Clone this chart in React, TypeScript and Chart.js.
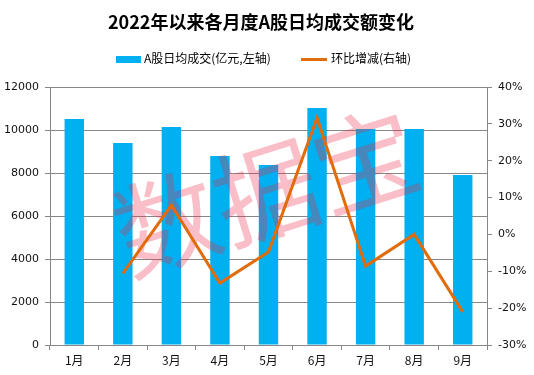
import React, { useEffect, useRef } from "react";
import { Chart, registerables } from "chart.js";

Chart.register(...registerables);

const TITLE = "2022年以来各月度A股日均成交额变化";
const categories = ["1月", "2月", "3月", "4月", "5月", "6月", "7月", "8月", "9月"];
const turnover = [10510, 9400, 10140, 8790, 8370, 11020, 10050, 10050, 7910];
const momChange = [null, -10.6, 7.9, -13.2, -4.8, 31.6, -8.6, 0.0, -21.0];
const barLabel = "A股日均成交(亿元,左轴)";
const lineLabel = "环比增减(右轴)";
const watermark = "数据宝";

const BAR_COLOR = "#00B0F0";
const LINE_COLOR = "#E26B0A";
const GRID = "#878787";
const CJK = '"Noto Sans CJK SC", "Noto Sans", sans-serif';
const TICK_FONT = '"DejaVu Sans", Verdana, sans-serif';

const decorPlugin = {
  id: "decor",
  afterDatasetDraw(chart: any, args: any) {
    if (args.index !== 0) return;
    const ctx = chart.ctx;
    ctx.save();
    ctx.translate(266, 192);
    ctx.rotate((-17.5 * Math.PI) / 180);
    ctx.font = `normal 104px ${CJK}`;
    ctx.fillStyle = "rgba(235, 40, 70, 0.3)";
    ctx.textAlign = "center";
    ctx.textBaseline = "middle";
    ctx.fillText(watermark, 0, 0);
    ctx.restore();
  },
  afterDraw(chart: any) {
    const ctx = chart.ctx;
    ctx.save();
    ctx.fillStyle = "#000";
    ctx.textAlign = "center";
    ctx.textBaseline = "middle";
    ctx.font = `bold 18px ${CJK}`;
    ctx.fillText(TITLE, 261, 22);
    // legend
    ctx.fillStyle = BAR_COLOR;
    ctx.fillRect(116, 56, 25, 7);
    ctx.strokeStyle = LINE_COLOR;
    ctx.lineWidth = 3;
    ctx.beginPath();
    ctx.moveTo(301, 59.5);
    ctx.lineTo(327, 59.5);
    ctx.stroke();
    ctx.fillStyle = "#000";
    ctx.textAlign = "left";
    ctx.font = `12px ${CJK}`;
    ctx.fillText(barLabel, 144, 58);
    ctx.fillText(lineLabel, 331, 58);
    ctx.restore();
  },
};

export default function App() {
  const ref = useRef<HTMLCanvasElement | null>(null);
  useEffect(() => {
    if (!ref.current) return;
    const chart = new Chart(ref.current, {
      type: "bar",
      data: {
        labels: categories,
        datasets: [
          {
            type: "bar",
            label: barLabel,
            data: turnover,
            backgroundColor: BAR_COLOR,
            barPercentage: 0.4,
            categoryPercentage: 1,
            yAxisID: "y",
            order: 2,
          },
          {
            type: "line",
            label: lineLabel,
            data: momChange as any,
            borderColor: LINE_COLOR,
            backgroundColor: LINE_COLOR,
            borderWidth: 3,
            pointRadius: 0,
            tension: 0,
            yAxisID: "y1",
            order: 1,
          },
        ],
      },
      options: {
        responsive: false,
        animation: false,
        layout: { padding: { top: 87, left: 0, right: 0, bottom: 0 } },
        plugins: {
          legend: { display: false },
          title: { display: false },
          tooltip: { enabled: false },
        },
        scales: {
          x: {
            offset: true,
            grid: {
              offset: true,
              drawOnChartArea: false,
              drawTicks: true,
              tickLength: 5,
              color: GRID,
            },
            border: { color: GRID },
            ticks: { color: "#111", font: { family: CJK, size: 12 }, padding: 3 },
            afterFit: (s: any) => {
              s.height = 30;
            },
          },
          y: {
            position: "left",
            min: 0,
            max: 12000,
            ticks: {
              stepSize: 2000,
              color: "#111",
              font: { family: TICK_FONT, size: 11 },
              padding: 6,
              callback: (v: any) => String(v),
            },
            grid: { color: GRID, tickLength: 5 },
            border: { color: GRID },
            afterFit: (s: any) => {
              s.width = 50;
            },
          },
          y1: {
            position: "right",
            min: -30,
            max: 40,
            ticks: {
              stepSize: 10,
              color: "#111",
              font: { family: TICK_FONT, size: 11 },
              padding: 6,
              callback: (v: any) => `${v}%`,
            },
            grid: { drawOnChartArea: false, color: GRID, tickLength: 5 },
            border: { color: GRID },
            afterFit: (s: any) => {
              s.width = 47;
            },
          },
        },
      },
      plugins: [decorPlugin],
    });
    return () => chart.destroy();
  }, []);
  return (
    <div style={{ position: "fixed", left: 0, top: 0, width: 534, height: 375, background: "#fff" }}>
      <canvas ref={ref} width={534} height={375} />
    </div>
  );
}
